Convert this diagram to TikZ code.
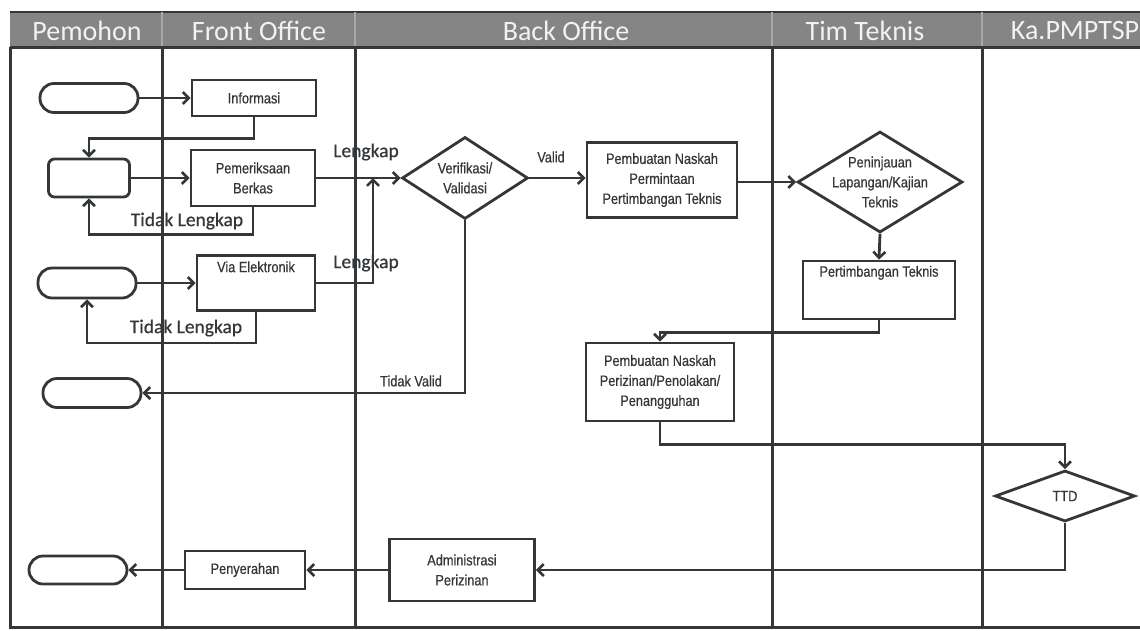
\documentclass[tikz,border=0pt]{standalone}
\usepackage{fontspec}
\setmainfont{Liberation Sans}
\newfontfamily\hdrfont{Carlito}
\newfontfamily\lblfont[FakeBold=0.6]{Carlito}
\newfontfamily\boxfont[FakeStretch=0.85,FakeBold=0.6]{Liberation Sans}
\usetikzlibrary{shapes.geometric,arrows.meta}
\definecolor{ink}{HTML}{33373A}
\definecolor{hdrgray}{HTML}{858585}
\definecolor{hdrline}{HTML}{A8A8A8}
\begin{document}
\begin{tikzpicture}[x=1pt,y=-1pt,
  lane/.style={draw=ink, line width=3pt},
  bfont/.style={font=\boxfont\fontsize{15}{20}\selectfont},
  box/.style={draw=ink, line width=2.8pt, rectangle, inner sep=1pt, align=center, bfont, text=ink},
  term/.style={draw=ink, line width=2.8pt, rectangle, rounded corners=14pt, minimum width=98pt, minimum height=29pt},
  dia/.style={draw=ink, line width=2.8pt, diamond, inner sep=0pt},
  arr/.style={draw=ink, line width=2.8pt, -{Straight Barb[length=6pt,width=12pt,line width=2.6pt]}},
  lbl/.style={font=\lblfont\fontsize{19.5}{22}\selectfont, text=ink, inner sep=0pt},
  slbl/.style={bfont, text=ink, inner sep=0pt, align=center},
  hdr/.style={font=\hdrfont\fontsize{28}{30}\selectfont, text=white!95!black, inner sep=0pt}
]
\useasboundingbox (0,0) rectangle (1140,630);
% header
\fill[hdrgray] (10,12) rectangle (1140,47);
\draw[ink, line width=1.2pt] (10,12) -- (1140,12);
\foreach \xx in {162,355,772,982} \draw[hdrline, line width=1.4pt] (\xx,12) -- (\xx,47);
\node[hdr] (h1) at (87,31) {Pemohon};
\node[hdr] (h2) at (259,31) {Front Office};
\node[hdr] (h3) at (566,31) {Back Office};
\node[hdr] (h4) at (865,31) {Tim Teknis};
\node[hdr] (h5) at (1075,31) {Ka.PMPTSP};
% lanes
\draw[lane] (10,47) -- (1140,47);
\foreach \xx in {10,162,355,772,982} \draw[lane] (\xx,47) -- (\xx,627);
\draw[lane] (8.5,627) -- (1140,627);

% nodes
\node[term] (t1) at (89,98) {};
\node[box, minimum width=124pt, minimum height=36pt] (info) at (254,98) {Informasi};
\node[draw=ink, line width=2.8pt, rectangle, rounded corners=6pt, minimum width=81pt, minimum height=38pt] (r2) at (89,178) {};
\node[box, minimum width=124pt, minimum height=56pt] (pem) at (253,178) {Pemeriksaan\\Berkas};
\node[term, minimum height=30pt] (t3) at (87,283) {};
\node[box, minimum width=118pt, minimum height=55pt,
      label={[anchor=north, yshift=-7pt, slbl]north:Via Elektronik}] (via) at (256,283) {};
\node[term] (t4) at (92,393) {};
\node[dia, minimum width=126pt, minimum height=82pt,
      label={[slbl]center:Verifikasi/\\Validasi}] (ver) at (465,178) {};
\node[box, minimum width=150pt, minimum height=75pt] (pn1) at (662,180) {Pembuatan Naskah\\Permintaan\\Pertimbangan Teknis};
\node[dia, minimum width=165pt, minimum height=101pt,
      label={[slbl]center:Peninjauan\\Lapangan/Kajian\\Teknis}] (pen) at (880,182) {};
\node[box, minimum width=152pt, minimum height=58pt,
      label={[anchor=north, yshift=-6pt, slbl]north:Pertimbangan Teknis}] (pt) at (879,290) {};
\node[box, minimum width=148pt, minimum height=78pt] (pn2) at (660,382) {Pembuatan Naskah\\Perizinan/Penolakan/\\Penangguhan};
\node[dia, minimum width=140pt, minimum height=51pt,
      label={[slbl]center:TTD}] (ttd) at (1065,496) {};
\node[box, minimum width=145pt, minimum height=62pt] (adm) at (462,570) {Administrasi\\Perizinan};
\node[box, minimum width=120pt, minimum height=38pt] (pny) at (245,570) {Penyerahan};
\node[term, minimum height=28pt] (t5) at (78,570) {};
\coordinate (j) at (373,178);

% connectors
\draw[arr] (t1.east) -- (info.west);
\draw[arr] (info.south) -- ++(0,21) -| (r2.north);
\draw[arr] (r2.east) -- (pem.west);
\draw[arr] (pem.south) -- ++(0,27) -| (r2.south);
\draw[arr] (pem.east) -- (ver.west);
\draw[arr] (t3.east) -- (via.west);
\draw[arr] (via.south) -- ++(0,31) -| (t3.south);
\draw[arr] (via.east) -| (j);
\draw[arr] (ver.east) -- (pn1.west |- ver.east);
\draw[arr] (pn1.east |- pen.west) -- (pen.west);
\draw[arr] (pen.south) -- (pt.north);
\draw[arr] (pt.south) -- ++(0,12) -| (pn2.north);
\draw[arr] (ver.south) |- (t4.east);
\draw[arr] (pn2.south) -- ++(0,22) -| (ttd.north);
\draw[arr] (ttd.south) |- (adm.east);
\draw[arr] (adm.west) -- (pny.east);
\draw[arr] (pny.west) -- (t5.east);

% labels
\node[lbl] (l1) at (366,152) {Lengkap};
\node[lbl] (l2) at (187,221) {Tidak Lengkap};
\node[lbl] (l3) at (366,263) {Lengkap};
\node[lbl] (l4) at (186,328) {Tidak Lengkap};
\node[slbl] (l5) at (551,157) {Valid};
\node[slbl] (l6) at (411,381) {Tidak Valid};
\end{tikzpicture}
\end{document}
